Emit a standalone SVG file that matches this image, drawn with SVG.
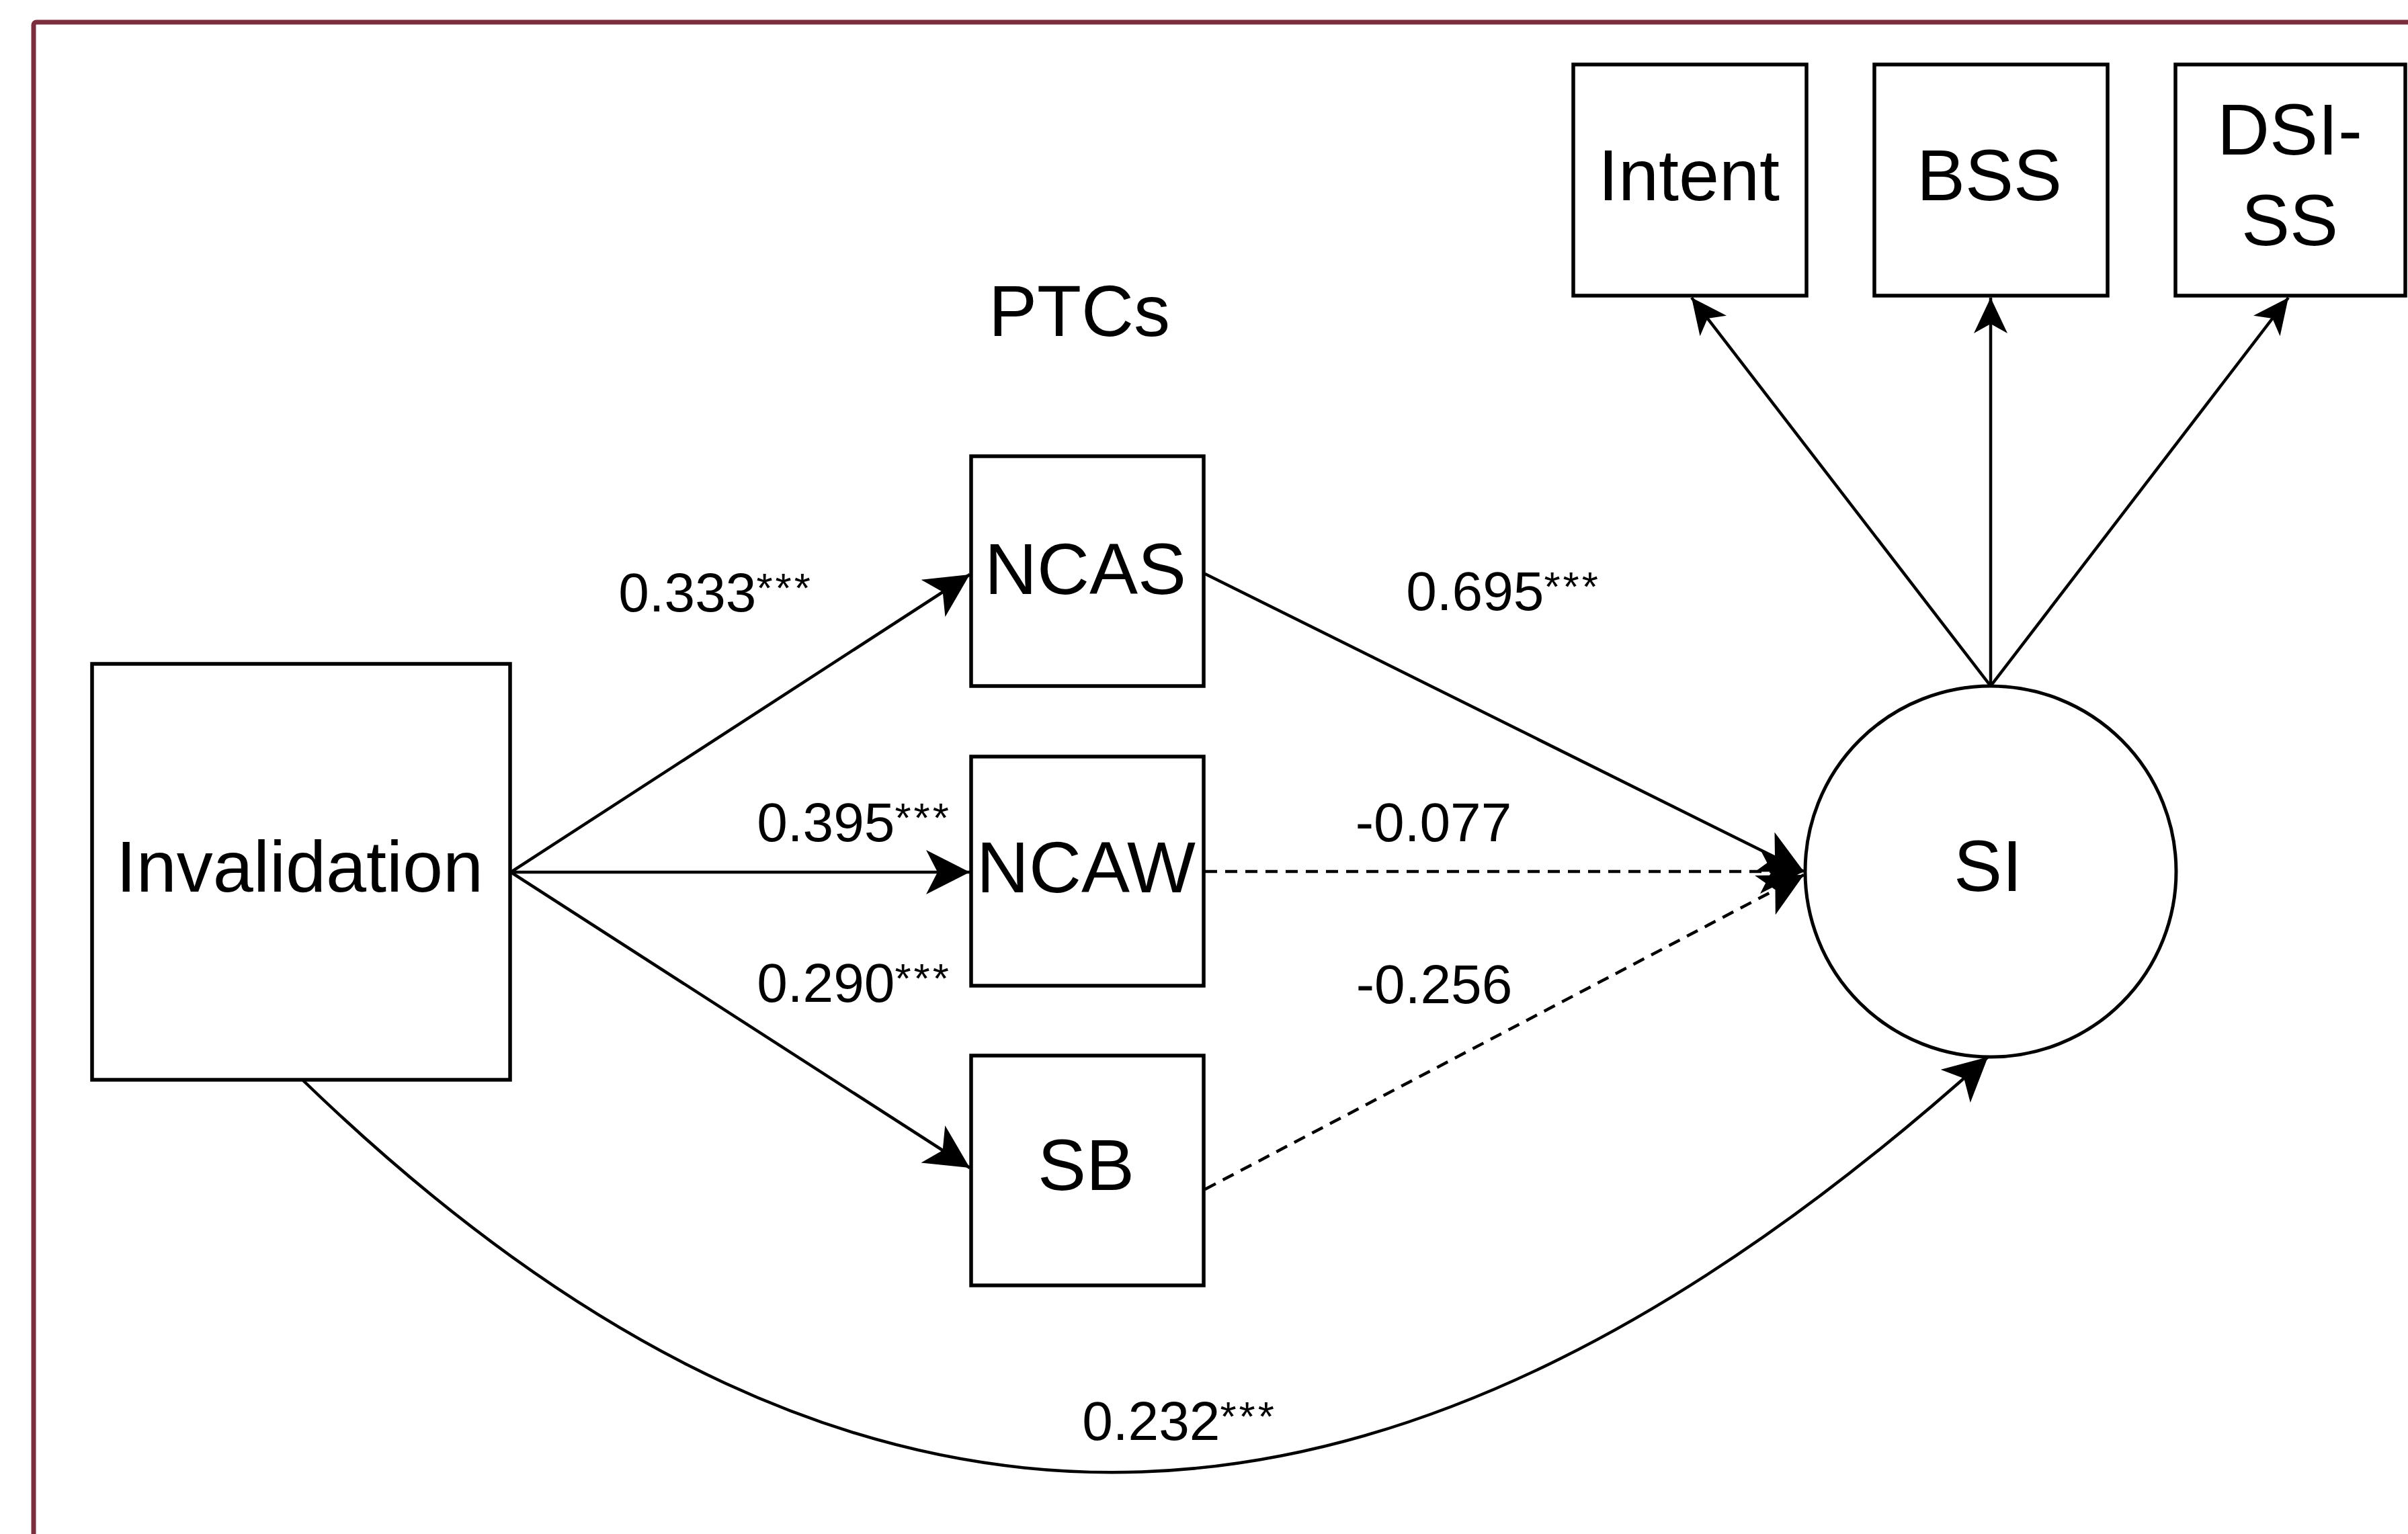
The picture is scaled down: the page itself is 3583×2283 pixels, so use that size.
<svg xmlns="http://www.w3.org/2000/svg" width="3583" height="2283" viewBox="0 0 3583 2283">
<defs>
<style>
.box{fill:#fff;stroke:#000;stroke-width:5.5}
.lbl{font-family:"Liberation Sans",Arial,Helvetica,sans-serif;font-size:108px;fill:#000;text-anchor:middle}
.coef{font-family:"Liberation Sans",Arial,Helvetica,sans-serif;font-size:82px;fill:#000;text-anchor:middle}
.sig{font-size:62px;letter-spacing:4px}
.edge{fill:none;stroke:#000;stroke-width:4.5}
.dash{stroke-dasharray:18 12}
</style>
<marker id="arrow" markerUnits="userSpaceOnUse" viewBox="0 -33 65 66" markerWidth="65" markerHeight="66" refX="65" refY="0" orient="auto">
<path d="M0,-33 L65,0 L0,33 L17,0 Z" fill="#000"/>
</marker>
<marker id="arrowSmall" markerUnits="userSpaceOnUse" viewBox="0 -25 53 50" markerWidth="53" markerHeight="50" refX="53" refY="0" orient="auto">
<path d="M0,-25 L53,0 L0,25 L14,0 Z" fill="#000"/>
</marker>
</defs>
<rect width="3583" height="2283" fill="#fff"/>
<rect id="frame" x="50" y="33" width="3600" height="2320" rx="4" fill="none" stroke="#7a2e3e" stroke-width="7"/>

<g id="connectors">
<line class="edge" x1="760" y1="1298" x2="1443" y2="855" marker-end="url(#arrow)"/>
<line class="edge" x1="760" y1="1298" x2="1443" y2="1298" marker-end="url(#arrow)"/>
<line class="edge" x1="760" y1="1298" x2="1443" y2="1738" marker-end="url(#arrow)"/>
<line class="edge" x1="1793" y1="854" x2="2684" y2="1297" marker-end="url(#arrow)"/>
<line class="edge dash" x1="1793" y1="1297" x2="2684" y2="1297" marker-end="url(#arrow)"/>
<line class="edge dash" x1="1793" y1="1770" x2="2684" y2="1302" marker-end="url(#arrow)"/>
<path class="edge" d="M451,1608 C1300,2430 2094,2351 2958,1573" marker-end="url(#arrow)"/>
<line class="edge" x1="2962" y1="1021" x2="2517" y2="443" marker-end="url(#arrowSmall)"/>
<line class="edge" x1="2962" y1="1021" x2="2962" y2="443" marker-end="url(#arrowSmall)"/>
<line class="edge" x1="2962" y1="1021" x2="3405" y2="443" marker-end="url(#arrowSmall)"/>
</g>

<g id="edge-labels">
<text class="coef" x="1065" y="910">0.333<tspan class="sig" dy="-14">***</tspan></text>
<text class="coef" x="1271" y="1252">0.395<tspan class="sig" dy="-14">***</tspan></text>
<text class="coef" x="1271" y="1491">0.290<tspan class="sig" dy="-14">***</tspan></text>
<text class="coef" x="2237" y="908">0.695<tspan class="sig" dy="-14">***</tspan></text>
<text class="coef" x="2133" y="1252">-0.077</text>
<text class="coef" x="2134" y="1493">-0.256</text>
<text class="coef" x="1755" y="2143">0.232<tspan class="sig" dy="-14">***</tspan></text>
</g>

<g id="node-invalidation">
<rect class="box" x="137" y="988" width="622" height="619"/>
<text class="lbl" x="446" y="1327">Invalidation</text>
</g>
<g id="label-ptcs">
<text class="lbl" x="1606" y="500">PTCs</text>
</g>
<g id="node-ncas">
<rect class="box" x="1445" y="679" width="346" height="342"/>
<text class="lbl" x="1615" y="884">NCAS</text>
</g>
<g id="node-ncaw">
<rect class="box" x="1445" y="1126" width="346" height="341"/>
<text class="lbl" x="1616" y="1328">NCAW</text>
</g>
<g id="node-sb">
<rect class="box" x="1445" y="1571" width="346" height="342"/>
<text class="lbl" x="1616" y="1771">SB</text>
</g>
<g id="node-si">
<circle cx="2962" cy="1297" r="276" fill="#fff" stroke="#000" stroke-width="5"/>
<text class="lbl" x="2958" y="1326">SI</text>
</g>
<g id="node-intent">
<rect class="box" x="2341" y="96" width="347" height="344"/>
<text class="lbl" x="2513" y="298">Intent</text>
</g>
<g id="node-bss">
<rect class="box" x="2789" y="96" width="347" height="344"/>
<text class="lbl" x="2960" y="298">BSS</text>
</g>
<g id="node-dsi-ss">
<rect class="box" x="3237" y="96" width="342" height="344"/>
<text class="lbl" x="3407" y="230">DSI-</text>
<text class="lbl" x="3407" y="365">SS</text>
</g>
</svg>
